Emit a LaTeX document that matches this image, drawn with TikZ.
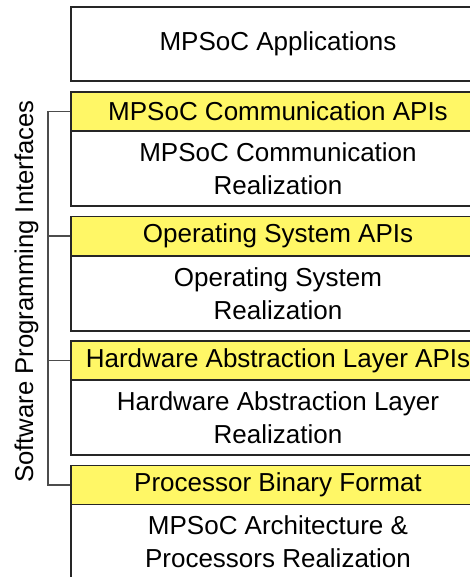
\documentclass[tikz,border=0pt]{standalone}
\usepackage{fontspec}
\setmainfont{Liberation Sans}
\tikzset{
  layer/.style={draw=black!85, line width=0.6pt, inner sep=0pt, minimum width=207pt, align=center,
     font=\fontsize{13}{16.5}\selectfont},
  apibox/.style={layer, fill=yellow!60, minimum height=19.5pt},
  realbox/.style={layer, fill=white, minimum height=37.5pt},
  bracketline/.style={draw=black!70, line width=0.6pt},
  sidelabel/.style={font=\fontsize{12.85}{16}\selectfont, inner sep=0pt, rotate=90, anchor=base}
}
\begin{document}
\begin{tikzpicture}[x=0.5pt, y=-0.5pt]
\useasboundingbox (0,0) rectangle (470,577);
\clip (0,0) rectangle (470,577);
\node[realbox, minimum height=37pt] (app) at (278,44) {MPSoC Applications};
\node[apibox] (api1) at (278,111.5) {MPSoC Communication APIs};
\node[realbox] (real1) at (278,168.5) {MPSoC Communication\\Realization};
\node[apibox] (api2) at (278,236) {Operating System APIs};
\node[realbox] (real2) at (278,293.5) {Operating System\\Realization};
\node[apibox] (api3) at (278,360.5) {Hardware Abstraction Layer APIs};
\node[realbox] (real3) at (278,417.5) {Hardware Abstraction Layer\\Realization};
\node[apibox] (api4) at (278,485) {Processor Binary Format};
\node[realbox] (real4) at (278,542) {MPSoC Architecture \&\\Processors Realization};
\coordinate (btop) at (48,111.5);
\coordinate (bbot) at (48,485);
\draw[bracketline] (api1.west) -- (btop) -- (bbot) -- (api4.west);
\draw[bracketline] (api2.west) -- (api2.west -| btop);
\draw[bracketline] (api3.west) -- (api3.west -| btop);
\node[sidelabel] (sw) at (33,291.5) {Software Programming Interfaces};
\end{tikzpicture}
\end{document}
